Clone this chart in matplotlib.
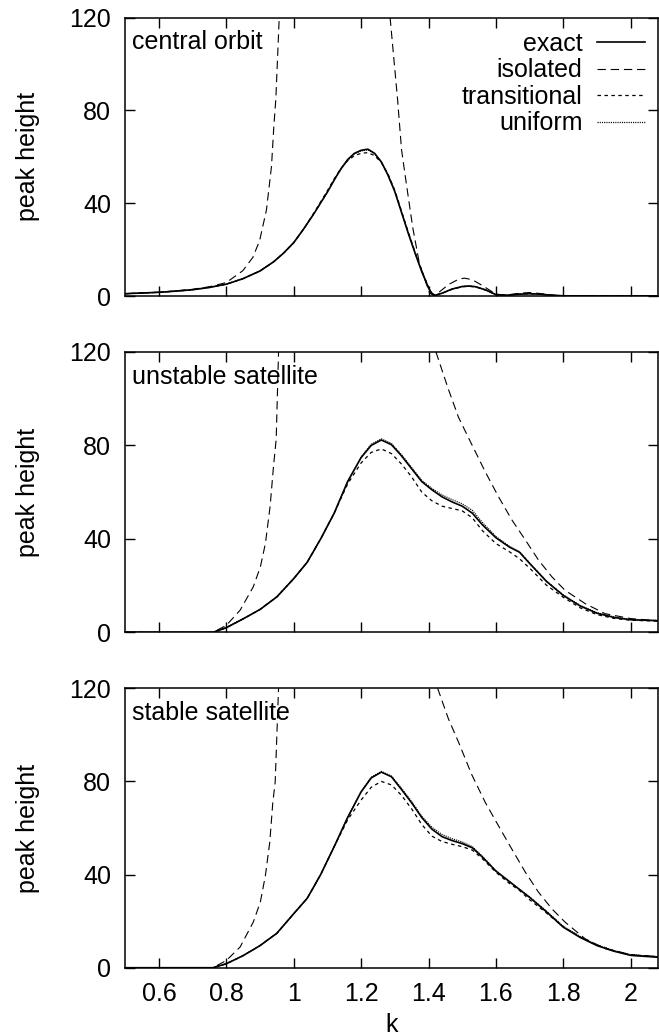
import numpy as np
import matplotlib
matplotlib.use("Agg")
import matplotlib.pyplot as plt

plt.rcParams['font.family'] = ['Liberation Sans', 'DejaVu Sans']
plt.rcParams['font.size'] = 18
plt.rcParams['lines.scale_dashes'] = False

nan = np.nan

# ---- central orbit ----
k_c = [0.50, 0.55, 0.60, 0.65, 0.70, 0.75, 0.80, 0.85, 0.90, 0.94, 0.97, 1.00,
       1.03, 1.06, 1.10, 1.12, 1.14, 1.16, 1.18, 1.20, 1.22, 1.24, 1.26, 1.28,
       1.30, 1.32, 1.34, 1.36, 1.38, 1.40, 1.41, 1.42, 1.44, 1.47, 1.50, 1.52,
       1.54, 1.57, 1.60, 1.63, 1.67, 1.70, 1.73, 1.77, 1.80, 1.90, 2.00, 2.08]
exact_c = [1.0, 1.3, 1.6, 2.1, 2.7, 3.7, 5.1, 7.5, 10.8, 14.7, 18.5, 23,
           29, 35.5, 44.8, 50.0, 54.8, 58.8, 61.5, 62.8, 63.3, 61.5, 57.8, 52,
           45, 36, 27, 18.5, 10.5, 3.5, 1.0, 0.3, 1.2, 3.0, 4.1, 4.3,
           4.0, 2.6, 0.6, 0.3, 0.8, 1.0, 0.8, 0.3, 0.1, 0.0, 0.0, 0.0]
trans_c = [1.0, 1.3, 1.6, 2.1, 2.7, 3.7, 5.1, 7.5, 10.8, 14.7, 18.5, 23,
           29, 35.8, 45.4, 50.5, 55.0, 58.3, 60.5, 61.5, 61.8, 60.5, 57.5, 52.5,
           45.5, 36.5, 27.5, 19, 11, 3.8, 1.2, 0.4, 1.2, 2.9, 4.0, 4.2,
           3.9, 2.5, 0.6, 0.3, 0.8, 1.0, 0.8, 0.3, 0.1, 0.0, 0.0, 0.0]
unif_c = [1.0, 1.3, 1.6, 2.1, 2.7, 3.7, 5.1, 7.5, 10.8, 14.7, 18.5, 23,
          29, 35.5, 44.8, 49.9, 54.6, 58.5, 61.2, 62.5, 63.0, 61.3, 57.8, 52.2,
          45.2, 36.2, 27.2, 18.7, 10.7, 3.6, 1.0, 0.3, 1.2, 3.0, 4.1, 4.3,
          4.0, 2.6, 0.6, 0.3, 0.8, 1.0, 0.8, 0.3, 0.1, 0.0, 0.0, 0.0]
k_iso_c = [0.50, 0.60, 0.70, 0.75, 0.80, 0.849, 0.879, 0.899, 0.919, 0.934,
           0.941, 0.947, 0.957, 1.10, 1.286, 1.308, 1.32, 1.334, 1.353, 1.373,
           1.403, 1.415, 1.43, 1.46, 1.49, 1.507, 1.53, 1.56, 1.60, 1.63, 1.67,
           1.70, 1.73, 1.77, 1.80, 1.90, 2.00, 2.08]
iso_c = [1.0, 1.6, 2.9, 4.0, 5.8, 10.9, 16.7, 24, 37, 55.8,
         73, 85, 120, nan, 120, 85, 63, 48.6, 29.7, 13.9,
         1.4, 0.2, 1.5, 5.0, 7.3, 7.7, 7.0, 4.5, 0.8, 0.4, 1.2,
         1.5, 1.1, 0.3, 0.1, 0.0, 0.0, 0.0]

# ---- unstable satellite ----
k_u = [0.50, 0.70, 0.76, 0.80, 0.85, 0.90, 0.95, 1.00, 1.04, 1.08, 1.12, 1.16,
       1.20, 1.23, 1.26, 1.29, 1.32, 1.35, 1.38, 1.41, 1.44, 1.47, 1.50, 1.53,
       1.56, 1.60, 1.64, 1.67, 1.70, 1.75, 1.80, 1.85, 1.90, 1.95, 2.00, 2.08]
exact_u = [0, 0, 0, 2.0, 5.8, 9.8, 15.2, 23, 30, 40, 51, 64.5,
           74.8, 80, 82.3, 80.3, 75.5, 70, 64.5, 61, 58, 55.8, 54, 51,
           46, 40.5, 36.5, 34.3, 29.5, 21.8, 15.8, 11.3, 8.2, 6.4, 5.4, 5.0]
trans_u = [0, 0, 0, 2.0, 5.8, 9.8, 15.2, 23, 30, 40, 51, 63.5,
           72.5, 77, 78.5, 76.5, 72, 66.5, 60, 56.3, 54, 53, 52, 49,
           43.5, 38, 34.5, 31.5, 27.5, 20.2, 15, 10.5, 7.6, 6.0, 5.2, 4.8]
unif_u = [0, 0, 0, 2.0, 5.8, 9.8, 15.2, 23, 30, 40, 51, 64.5,
          75, 80.5, 82.8, 80.8, 76, 70.5, 65, 61.6, 58.8, 56.8, 55, 52.2,
          47, 41, 36.8, 34.5, 29.7, 22, 16, 11.5, 8.4, 6.6, 5.5, 5.1]
k_iso_u = [0.50, 0.70, 0.76, 0.80, 0.841, 0.88, 0.901, 0.916, 0.93, 0.94,
           0.948, 0.955, 1.20, 1.422, 1.459, 1.489, 1.528, 1.568, 1.607, 1.647,
           1.687, 1.726, 1.766, 1.805, 1.865, 1.924, 2.00, 2.08]
iso_u = [0, 0, 0, 3.0, 9.5, 19.5, 28, 38, 54, 71,
         82.6, 120, nan, 120, 104, 92, 80.5, 68.8, 58.2, 48.2,
         39.6, 31, 23.8, 18, 12.3, 8.0, 5.9, 5.0]

# ---- stable satellite ----
k_s = [0.50, 0.70, 0.76, 0.80, 0.85, 0.90, 0.95, 1.00, 1.04, 1.08, 1.12, 1.16,
       1.20, 1.23, 1.26, 1.29, 1.32, 1.35, 1.38, 1.41, 1.44, 1.47, 1.50, 1.53,
       1.56, 1.60, 1.64, 1.67, 1.70, 1.75, 1.80, 1.85, 1.90, 1.95, 2.00, 2.08]
exact_s = [0, 0, 0, 1.7, 5.2, 9.5, 14.8, 23.2, 29.8, 40, 52, 64.5,
           75.5, 81.5, 84, 82, 76.5, 70.8, 64.5, 59.5, 56.3, 54.6, 53.3, 51.5,
           47.5, 41.5, 37, 33.6, 30.2, 24, 17.4, 13, 9.5, 7.1, 5.3, 4.5]
trans_s = [0, 0, 0, 1.7, 5.2, 9.5, 14.8, 23.2, 29.8, 40, 52, 63.5,
           72, 77.5, 80, 78.5, 74, 68.2, 61.5, 56.5, 54.2, 53, 52, 50.5,
           46.8, 41, 36.2, 33.2, 29.2, 23.5, 17.6, 13.2, 9.7, 7.3, 5.5, 4.8]
unif_s = [0, 0, 0, 1.7, 5.2, 9.5, 14.8, 23.2, 29.8, 40, 52, 64.5,
          75.7, 81.8, 84.3, 82.3, 77, 71.3, 65, 60.3, 57.2, 55.4, 54, 52,
          47.8, 41.6, 37, 33.6, 30.4, 24.3, 17.8, 13.4, 9.8, 7.4, 5.6, 4.7]
k_iso_s = [0.50, 0.70, 0.76, 0.80, 0.841, 0.88, 0.901, 0.916, 0.929, 0.938,
           0.945, 0.955, 1.20, 1.427, 1.459, 1.489, 1.528, 1.568, 1.607, 1.647,
           1.687, 1.726, 1.766, 1.805, 1.865, 1.924, 2.00, 2.08]
iso_s = [0, 0, 0, 3.1, 8.9, 19.6, 28.2, 39.6, 54, 71,
         79.7, 120, nan, 120, 106.9, 96.9, 83, 71.1, 61.1, 51,
         41.1, 32.5, 25.3, 19.6, 12.4, 8.2, 5.6, 4.8]

panels = [
    ("central orbit", k_c, exact_c, trans_c, unif_c, k_iso_c, iso_c),
    ("unstable satellite", k_u, exact_u, trans_u, unif_u, k_iso_u, iso_u),
    ("stable satellite", k_s, exact_s, trans_s, unif_s, k_iso_s, iso_s),
]

xticks = [0.6, 0.8, 1.0, 1.2, 1.4, 1.6, 1.8, 2.0]
xticklabels = ["0.6", "0.8", "1", "1.2", "1.4", "1.6", "1.8", "2"]
yticks = [0, 40, 80, 120]

fig = plt.figure(figsize=(6.59, 10.35), dpi=100)
boxes = [(0.714, 0.983), (0.389, 0.660), (0.065, 0.335)]
left, right = 0.19, 0.998

for i, (name, k, ex, tr, un, kiso, iso) in enumerate(panels):
    b, t = boxes[i]
    ax = fig.add_axes([left, b, right - left, t - b])
    ax.plot(k, ex, color='black', lw=1.2, label='exact')
    ax.plot(kiso, iso, color='black', lw=0.8, ls=(0, (6, 3.5)), label='isolated')
    ax.plot(k, tr, color='black', lw=0.9, ls=(0, (2.5, 2.5)), label='transitional')
    ax.plot(k, un, color='black', lw=0.9, ls=(0, (0.8, 0.8)), label='uniform')

    ax.set_xlim(0.5, 2.08)
    ax.set_ylim(0, 120)
    ax.set_xticks(xticks)
    ax.set_yticks(yticks)
    ax.tick_params(direction='in', length=7, width=1, top=True, right=True, pad=10)
    for s in ax.spines.values():
        s.set_linewidth(1.1)
    if i == 2:
        ax.set_xticklabels(xticklabels)
        ax.set_xlabel('k', labelpad=5)
    else:
        ax.set_xticklabels([])
    ax.set_ylabel('peak height', labelpad=21)
    ax.text(0.013, 0.912, name, transform=ax.transAxes, ha='left', va='center')

    if i == 0:
        ax.legend(loc='upper right', bbox_to_anchor=(0.976, 0.949), frameon=False,
                  markerfirst=False, borderpad=0, borderaxespad=0,
                  handlelength=1.9, handletextpad=0.6, labelspacing=0.1)

plt.savefig("out.png")
